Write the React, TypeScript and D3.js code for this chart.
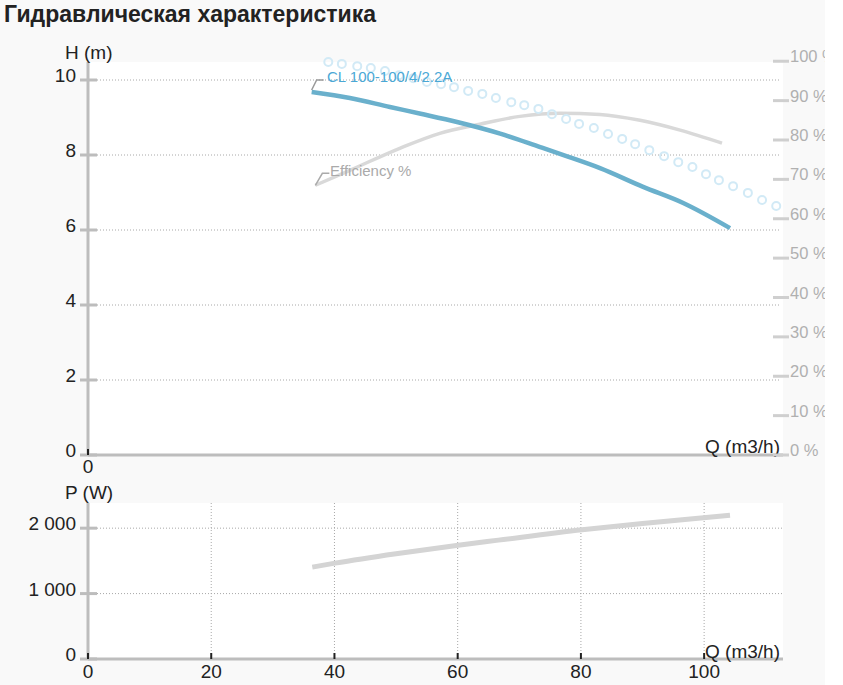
import { scaleLinear, line, curveMonotoneX, format } from "d3"

// flow, m3/h
const headQ = [36.3, 42.5, 49, 54, 59.9, 66.9, 73.4, 78, 83.1, 90.1, 96.6, 104.2]
const headH = [9.68, 9.52, 9.28, 9.1, 8.88, 8.57, 8.21, 7.95, 7.65, 7.15, 6.72, 6.05]

const effQ = [36.9, 42.5, 50.6, 57.1, 63.6, 70.1, 76.6, 83.1, 89.6, 96.1, 102.9]
const effPct = [68.5, 72.3, 77.9, 81.7, 84.0, 86.0, 86.8, 86.5, 85.0, 82.5, 79.2]

const dotQ = [39.0, 41.2, 43.7, 45.9, 48.2, 50.5, 52.8, 55.0, 57.3, 59.4, 61.7, 64.0, 66.2, 68.7, 70.8, 73.1, 75.3,
  77.6, 79.7, 82.1, 84.4, 86.7, 88.8, 91.1, 93.5, 95.8, 98.1, 100.3, 102.4, 104.7, 107.1, 109.4, 111.7]
const dotH = [10.48, 10.43, 10.37, 10.32, 10.24, 10.13, 10.05, 9.95, 9.89, 9.81, 9.71, 9.63, 9.52, 9.41, 9.33, 9.23, 9.09,
  8.96, 8.83, 8.72, 8.56, 8.43, 8.29, 8.13, 7.97, 7.81, 7.68, 7.49, 7.33, 7.17, 6.99, 6.8, 6.64]

const powerQ = [36.4, 40.1, 50, 60.1, 66.6, 80.2, 90, 104.2]
const powerW = [1405, 1466, 1610, 1740, 1817, 1975, 2070, 2198]

const hTicks = [0, 2, 4, 6, 8, 10]
const pctTicks = [0, 10, 20, 30, 40, 50, 60, 70, 80, 90, 100]
const pTicks = [0, 1000, 2000]
const qTicks = [0, 20, 40, 60, 80, 100]

const curveName = "CL 100-100/4/2.2A"
const font = "'Liberation Sans', Arial, sans-serif"

const App = () => {
  const left = 88
  const right = 783
  const x = scaleLinear().domain([0, 112.8]).range([left, right])
  const yH = scaleLinear().domain([0, 10.5]).range([455, 61.25])
  const yPct = scaleLinear().domain([0, 100]).range([455, 61.25])
  const yP = scaleLinear().domain([0, 2400]).range([659, 502])
  const thousands = format(",")
  const fmtP = (v: number) => thousands(v).replace(/,/g, " ")

  const pts = (qs: number[], vs: number[]) => qs.map((q, i) => [q, vs[i]] as [number, number])

  const headLine = line<[number, number]>().x(d => x(d[0])).y(d => yH(d[1])).curve(curveMonotoneX)
  const effLine = line<[number, number]>().x(d => x(d[0])).y(d => yPct(d[1])).curve(curveMonotoneX)
  const powLine = line<[number, number]>().x(d => x(d[0])).y(d => yP(d[1])).curve(curveMonotoneX)

  const axisGray = "#bdbdbd"
  const grid = "#a8a8a8"
  const fs = 19

  const h0x = x(headQ[0]), h0y = yH(headH[0])
  const e0x = x(effQ[0]), e0y = yPct(effPct[0])

  return (
    <div style={{ position: "fixed", left: 0, top: 0, width: 843, height: 685, background: "#fff" }}>
      <svg width={843} height={685} style={{ display: "block" }} fontFamily={font}>
        <rect x={0} y={0} width={825} height={685} fill="#f9f9f9" />
        <text x={4} y={22} fontSize={23} fontWeight="bold" fill="#222">Гидравлическая характеристика</text>

        {/* head / efficiency chart */}
        <rect x={left} y={62} width={right - left} height={455 - 62} fill="#fff" />
        {hTicks.filter(t => t > 0).map(t => (
          <line key={t} x1={97} x2={780} y1={yH(t)} y2={yH(t)} stroke={grid} strokeDasharray="1,2" />
        ))}
        <line x1={left} x2={left} y1={62} y2={455} stroke={axisGray} strokeWidth={3} />
        <line x1={left} x2={right} y1={455} y2={455} stroke={axisGray} strokeWidth={3} />
        {hTicks.map(t => (
          <g key={t}>
            <line x1={80} x2={97} y1={yH(t)} y2={yH(t)} stroke={axisGray} strokeWidth={3} />
            <text x={76} y={yH(t) + 2} fontSize={fs} textAnchor="end" fill="#222">{t}</text>
          </g>
        ))}
        <text x={65} y={59} fontSize={fs} fill="#222">H (m)</text>
        <line x1={x(0)} x2={x(0)} y1={449} y2={455} stroke="#222" strokeWidth={2} />
        <text x={x(0)} y={473} fontSize={fs} textAnchor="middle" fill="#222">0</text>
        <text x={780} y={453} fontSize={fs} textAnchor="end" fill="#222">Q (m3/h)</text>

        <clipPath id="rclip"><rect x={0} y={0} width={825} height={685} /></clipPath>
        <g clipPath="url(#rclip)">
          {pctTicks.map(t => (
            <g key={t}>
              <line x1={773} x2={789} y1={yPct(t)} y2={yPct(t)} stroke="#cfcfcf" strokeWidth={3} />
              <text x={790} y={yPct(t) + 1} fontSize={16.5} fill="#b0b0b0">{t} %</text>
            </g>
          ))}
        </g>

        <path d={effLine(pts(effQ, effPct)) ?? ""} fill="none" stroke="#d9d9d9" strokeWidth={3.5} />
        <path d={headLine(pts(headQ, headH)) ?? ""} fill="none" stroke="#6ab0cc" strokeWidth={4.5} />
        {dotQ.map((q, i) => (
          <circle key={i} cx={x(q)} cy={yH(dotH[i])} r={4} fill="none" stroke="#d2eaf6" strokeWidth={2} />
        ))}

        <polyline points={`${h0x},${h0y - 2} ${h0x + 5},${h0y - 12} ${h0x + 12},${h0y - 12}`} fill="none" stroke="#999" strokeWidth={1.5} />
        <text x={327} y={82} fontSize={15} fill="#4aa8d6">{curveName}</text>
        <polyline points={`${e0x},${e0y} ${e0x + 7},${e0y - 12} ${e0x + 14},${e0y - 12}`} fill="none" stroke="#aaa" strokeWidth={1.5} />
        <text x={330} y={176} fontSize={15} fill="#aaa">Efficiency %</text>

        {/* power chart */}
        <rect x={left} y={503} width={right - left} height={659 - 503} fill="#fff" />
        {pTicks.filter(t => t > 0).map(t => (
          <line key={t} x1={97} x2={right} y1={yP(t)} y2={yP(t)} stroke={grid} strokeDasharray="1,2" />
        ))}
        {qTicks.filter(t => t > 0).map(t => (
          <line key={t} x1={x(t)} x2={x(t)} y1={503} y2={659} stroke={grid} strokeDasharray="1,2" />
        ))}
        <line x1={left} x2={left} y1={503} y2={659} stroke={axisGray} strokeWidth={3} />
        <line x1={left} x2={right} y1={659} y2={659} stroke={axisGray} strokeWidth={3} />
        {pTicks.map(t => (
          <g key={t}>
            <line x1={80} x2={97} y1={yP(t)} y2={yP(t)} stroke={axisGray} strokeWidth={3} />
            <text x={76} y={yP(t) + 2} fontSize={fs} textAnchor="end" fill="#222">{fmtP(t)}</text>
          </g>
        ))}
        {qTicks.map(t => (
          <g key={t}>
            <line x1={x(t)} x2={x(t)} y1={653} y2={659} stroke="#222" strokeWidth={2} />
            <text x={x(t)} y={678} fontSize={fs} textAnchor="middle" fill="#222">{t}</text>
          </g>
        ))}
        <text x={65} y={499} fontSize={fs} fill="#222">P (W)</text>
        <text x={780} y={658} fontSize={fs} textAnchor="end" fill="#222">Q (m3/h)</text>
        <path d={powLine(pts(powerQ, powerW)) ?? ""} fill="none" stroke="#d4d4d4" strokeWidth={5} />
      </svg>
    </div>
  )
}

export default App
